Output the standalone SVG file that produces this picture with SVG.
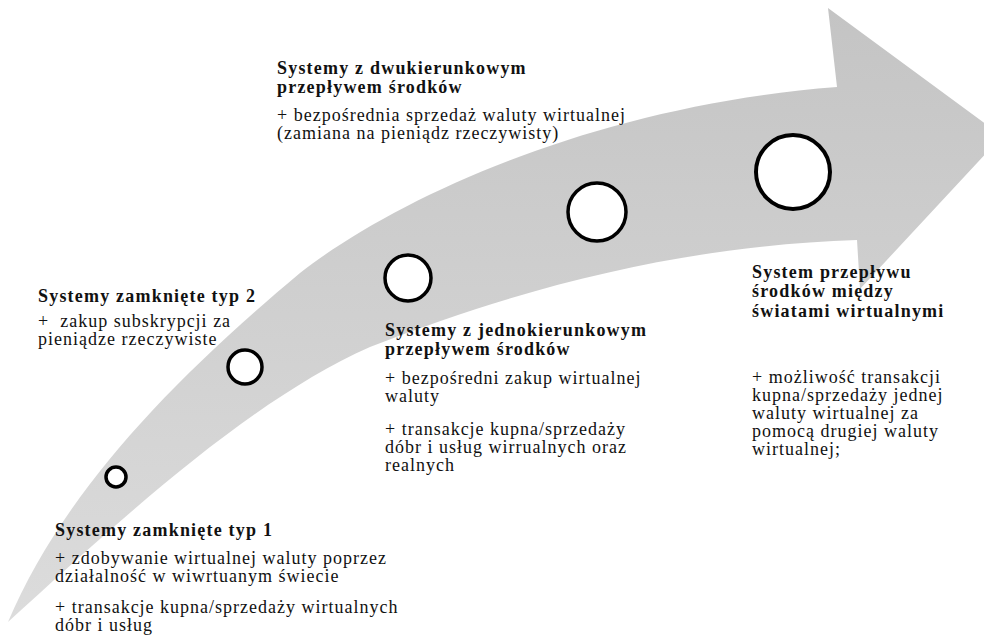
<svg xmlns="http://www.w3.org/2000/svg" width="984" height="637" viewBox="0 0 984 637">
<defs>
<linearGradient id="arrowGrad" x1="0" y1="0" x2="0" y2="1">
<stop offset="0" stop-color="#c4c4c4"/>
<stop offset="1" stop-color="#dcdcdc"/>
</linearGradient>
<style>
text{font-family:'Liberation Serif','DejaVu Serif','Times New Roman',serif;font-size:18px;letter-spacing:1px;fill:#111;}
.h{font-weight:bold;letter-spacing:1.2px;}
.c{fill:#fff;stroke:#000;stroke-width:3.5;}
</style>
</defs>
<rect width="984" height="637" fill="#fff"/>
<g id="connectors">
<path d="M8,622 C60,500 160,390 300,273 C400,195 600,105 837,87 L828,8 L1002,136 L860,289 L857,240 C700,245 540,280 370,347 C250,400 120,520 8,622 Z" fill="url(#arrowGrad)"/>
</g>
<g id="node-typ1">
<circle class="c" cx="116" cy="477" r="10"/>
<text class="h" x="55" y="536">Systemy zamknięte typ 1</text>
<text x="55" y="564">+ zdobywanie wirtualnej waluty poprzez</text>
<text x="55" y="582">działalność w wiwrtuanym świecie</text>
<text x="55" y="613">+ transakcje kupna/sprzedaży wirtualnych</text>
<text x="55" y="631">dóbr i usług</text>
</g>
<g id="node-typ2">
<circle class="c" cx="245" cy="367" r="17"/>
<text class="h" x="38" y="302">Systemy zamknięte typ 2</text>
<text x="38" y="327" xml:space="preserve">+  zakup subskrypcji za</text>
<text x="38" y="345">pieniądze rzeczywiste</text>
</g>
<g id="node-jednokierunkowe">
<circle class="c" cx="408" cy="278" r="23"/>
<text class="h" x="385" y="336">Systemy z jednokierunkowym</text>
<text class="h" x="385" y="355">przepływem środków</text>
<text x="385" y="384">+ bezpośredni zakup wirtualnej</text>
<text x="385" y="402">waluty</text>
<text x="385" y="435">+ transakcje kupna/sprzedaży</text>
<text x="385" y="453">dóbr i usług wirrualnych oraz</text>
<text x="385" y="471">realnych</text>
</g>
<g id="node-dwukierunkowe">
<circle class="c" cx="597" cy="212" r="29"/>
<text class="h" x="277" y="74">Systemy z dwukierunkowym</text>
<text class="h" x="277" y="93">przepływem środków</text>
<text x="277" y="121">+ bezpośrednia sprzedaż waluty wirtualnej</text>
<text x="277" y="139">(zamiana na pieniądz rzeczywisty)</text>
</g>
<g id="node-miedzy-swiatami">
<circle class="c" cx="793" cy="172" r="37" style="stroke-width:4"/>
<text class="h" x="752" y="278">System przepływu</text>
<text class="h" x="752" y="297">środków między</text>
<text class="h" x="752" y="317">światami wirtualnymi</text>
<text x="752" y="383">+ możliwość transakcji</text>
<text x="752" y="401">kupna/sprzedaży jednej</text>
<text x="752" y="419">waluty wirtualnej za</text>
<text x="752" y="437">pomocą drugiej waluty</text>
<text x="752" y="455">wirtualnej;</text>
</g>
</svg>
